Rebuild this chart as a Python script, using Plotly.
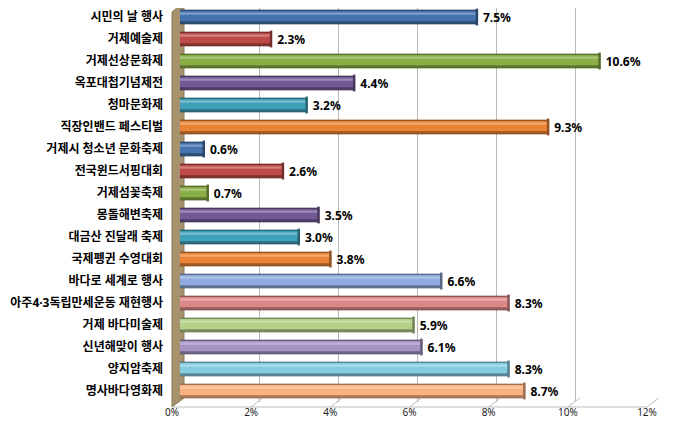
import plotly.graph_objects as go

# survey data: share of respondents per festival / event (%)
events = [
    "시민의 날 행사", "거제예술제", "거제선상문화제", "옥포대첩기념제전", "청마문화제",
    "직장인밴드 페스티벌", "거제시 청소년 문화축제", "전국윈드서핑대회", "거제섬꽃축제",
    "몽돌해변축제", "대금산 진달래 축제", "국제펭귄 수영대회", "바다로 세계로 행사",
    "아주4·3독립만세운동 재현행사", "거제 바다미술제", "신년해맞이 행사", "양지암축제", "명사바다영화제",
]
shares = [7.5, 2.3, 10.6, 4.4, 3.2, 9.3, 0.6, 2.6, 0.7, 3.5, 3.0, 3.8, 6.6, 8.3, 5.9, 6.1, 8.3, 8.7]
tick_vals = [0, 2, 4, 6, 8, 10, 12]
tick_text = ["0%", "2%", "4%", "6%", "8%", "10%", "12%"]

main_cols = ["#4573B0", "#BE4B48", "#8AAE46", "#735A97", "#3FA0BA", "#EA8434",
             "#4573B0", "#BE4B48", "#8AAE46", "#735A97", "#3FA0BA", "#EA8434",
             "#8FAADC", "#DB8886", "#B3D187", "#A593C6", "#86CDE2", "#FBB17F"]

FONT = "Noto Sans, Noto Sans CJK KR"


def shade(hexcol, f):
    # f < 1 darkens, f > 1 mixes toward white
    r, g, b = (int(hexcol[i:i + 2], 16) for i in (1, 3, 5))
    if f <= 1:
        r, g, b = r * f, g * f, b * f
    else:
        t = f - 1
        r, g, b = r + (255 - r) * t, g + (255 - g) * t, b + (255 - b) * t
    return "#%02x%02x%02x" % (int(r), int(g), int(b))


# page body has an 8px margin, so the figure is a bit smaller than the window
W, H = 669, 431
L, R, T, B = 172, 22, 0, 37
pw, ph = W - L - R, H - T - B
OFF = 8


# helpers converting screen pixels (as measured on the picture) to paper coords
def px(x):
    return (x - OFF - L) / pw


def py(y):
    return (H - B - (y - OFF)) / ph


fig = go.Figure()

# cylinder look: dark body, main colour, light highlight stripe
fig.add_trace(go.Bar(
    y=events, x=shares, orientation="h", width=0.64,
    marker=dict(color=[shade(c, 0.68) for c in main_cols], line=dict(color=[shade(c, 0.55) for c in main_cols], width=0.6)),
    text=["\u00a0%.1f%%" % v for v in shares], textposition="outside", cliponaxis=False,
    textfont=dict(family=FONT, size=12, color="#000000", weight="bold"),
    constraintext="none", hoverinfo="skip", showlegend=False,
))
fig.add_trace(go.Bar(
    y=events, x=shares, orientation="h", width=0.46, offset=-0.27,
    marker=dict(color=main_cols, line=dict(width=0)), hoverinfo="skip", showlegend=False,
))
fig.add_trace(go.Bar(
    y=events, x=shares, orientation="h", width=0.1, offset=-0.2,
    marker=dict(color=[shade(c, 1.3) for c in main_cols], line=dict(width=0)), hoverinfo="skip", showlegend=False,
))
# end caps of the cylinders
fig.add_trace(go.Scatter(
    y=events, x=shares, mode="markers", cliponaxis=False,
    marker=dict(symbol="line-ns", size=12, line=dict(width=2.5, color=[shade(c, 0.62) for c in main_cols])),
    hoverinfo="skip", showlegend=False,
))

shapes = []
# left side wall
shapes.append(dict(type="path", xref="paper", yref="paper", layer="below",
                   path="M %f,%f L %f,%f L %f,%f L %f,%f Z" % (px(172), py(12), px(184), py(2), px(184), py(398), px(172), py(407)),
                   fillcolor="#A6936E", line=dict(color="#8a7855", width=1)))
# floor: front edge + slanted grid stubs
shapes.append(dict(type="line", xref="paper", yref="paper", x0=px(172), x1=px(647), y0=py(407), y1=py(407),
                   line=dict(color="#bdbdbd", width=1)))
for v in tick_vals[1:]:
    xb = L + OFF + v * pw / 12 + 4
    shapes.append(dict(type="line", xref="paper", yref="paper", x0=px(xb), x1=px(xb - 12), y0=py(398), y1=py(407),
                       line=dict(color="#bdbdbd", width=1)))

fig.update_layout(
    width=W, height=H,
    margin=dict(l=L, r=R, t=T, b=B),
    paper_bgcolor="white", plot_bgcolor="white",
    barmode="overlay",
    font=dict(family=FONT, color="#000000"),
    shapes=shapes,
    xaxis=dict(range=[0, 12], tickvals=tick_vals, ticktext=tick_text, showgrid=True,
               gridcolor="#b8b8b8", gridwidth=1, zeroline=False, showline=False,
               ticklabelshift=-8, ticklabelstandoff=3, automargin=False,
               tickfont=dict(family=FONT, size=10, color="#222222")),
    yaxis=dict(categoryorder="array", categoryarray=events, range=[17.5, -0.41],
               showgrid=False, zeroline=False, showline=False, ticks="",
               ticklabelstandoff=16, automargin=False,
               tickfont=dict(family=FONT, size=12, color="#000000", weight="bold")),
)

fig.write_html("out.html")
